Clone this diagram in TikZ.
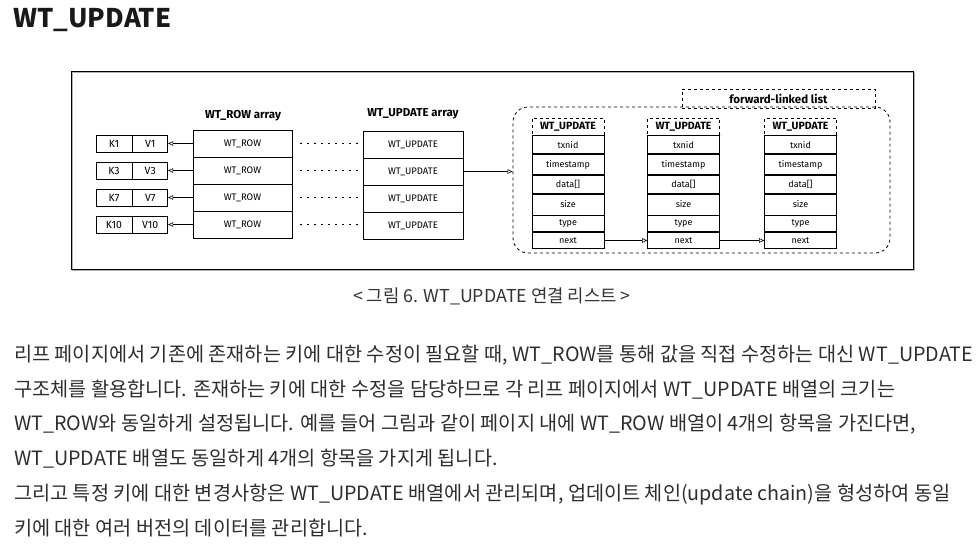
\documentclass[tikz,border=0pt]{standalone}
\usepackage{fontspec}
\setmainfont{Noto Sans CJK KR}
\newfontfamily\sketchfont{Fira Sans}
\usetikzlibrary{positioning,arrows.meta}

\begin{document}
\begin{tikzpicture}[x=1pt,y=-1pt,
    box/.style={draw,line width=0.75pt,inner sep=0pt,font=\sketchfont\fontsize{9.5}{9.5}\selectfont},
    kv/.style={box,minimum height=17,font=\sketchfont\fontsize{10.5}{10.5}\selectfont},
    cell/.style={box,minimum height=27},
    fld/.style={box,minimum width=72,font=\sketchfont\fontsize{9}{9}\selectfont},
    hdr/.style={fld,dashed,minimum height=17,font=\sketchfont\bfseries\fontsize{10.5}{10.5}\selectfont},
    lbl/.style={inner sep=0pt,font=\sketchfont\bfseries\fontsize{11.5}{12}\selectfont},
    ptr/.style={-{Triangle[open,length=5pt,width=4.5pt]},line width=0.6pt},
    dots/.style={line width=1.4pt,dash pattern=on 1.4pt off 5.6pt},
    para/.style={anchor=base west,inner sep=0pt,text=black!82,font=\fontsize{19.7}{19.7}\selectfont}]
  \useasboundingbox (0,0) rectangle (979,553);

  \node[anchor=base west,inner sep=0pt,text=black!90,font=\bfseries\fontsize{25.7}{25.7}\selectfont] (heading) at (13,28) {WT\_UPDATE};

  % figure frame
  \draw[black!30,line width=1pt] (72.5,72.5) rectangle (914.5,270.5);
  \draw[line width=0.9pt] (71,71) rectangle (913,269);

  % key/value pairs, WT_ROW array and WT_UPDATE array
  \node[lbl] (rowtitle) at (243,116) {WT\_ROW array};
  \node[lbl] (updtitle) at (413,114) {WT\_UPDATE array};
  \foreach \i/\k in {1/1,2/3,3/7,4/10} {
    \node[kv,minimum width=36] (K\i) at (114,130+27*\i-13.5) {K\k};
    \node[kv,minimum width=35,right=0pt of K\i] (V\i) {V\k};
    \node[cell,minimum width=99] (row\i) at (242.5,130+27*\i-13.5) {WT\_ROW};
    \node[cell,minimum width=100] (upd\i) at (413,131+27*\i-13.5) {WT\_UPDATE};
    \draw[ptr] (row\i.west) -- (V\i.east);
    \draw[dots,shorten <=8pt,shorten >=5pt] (row\i.east) -- (row\i.east -| upd\i.west);
  }

  % update chain
  \node[draw,dashed,line width=0.8pt,rounded corners=15pt,minimum width=377,minimum height=146] (chain) at (701.5,180) {};
  \node[draw,dashed,line width=0.8pt,minimum width=193,minimum height=19,lbl] (fll) at (778.5,98.5) {forward-linked list};
  \draw[ptr] (upd2.east) -- (upd2.east -| chain.west);
  \foreach \s/\x in {1/568,2/683.5,3/800.5} {
    \node[hdr] (h\s) at (\x,126.5) {WT\_UPDATE};
    \node[fld,minimum height=18,below=0pt of h\s] (tx\s) {txnid};
    \node[fld,minimum height=20,below=0pt of tx\s] (ts\s) {timestamp};
    \node[fld,minimum height=18,below=0pt of ts\s] (dt\s) {data[]};
    \node[fld,minimum height=21,below=0pt of dt\s] (sz\s) {size};
    \node[fld,minimum height=16,below=0pt of sz\s] (ty\s) {type};
    \node[fld,minimum height=16,below=0pt of ty\s] (nx\s) {next};
  }
  \draw[ptr] (nx1.east) -- (nx2.west);
  \draw[ptr] (nx2.east) -- (nx3.west);

  \node[anchor=base,inner sep=0pt,text=black!80,font=\fontsize{17.8}{17.8}\selectfont] (caption) at (492,302) {< 그림 6. WT\_UPDATE 연결 리스트 >};

  \node[para] (p1) at (14,361) {리프 페이지에서 기존에 존재하는 키에 대한 수정이 필요할 때, WT\_ROW를 통해 값을 직접 수정하는 대신 WT\_UPDATE};
  \node[para] (p2) at (14,396) {구조체를 활용합니다. 존재하는 키에 대한 수정을 담당하므로 각 리프 페이지에서 WT\_UPDATE 배열의 크기는};
  \node[para] (p3) at (14,430.5) {WT\_ROW와 동일하게 설정됩니다. 예를 들어 그림과 같이 페이지 내에 WT\_ROW 배열이 4개의 항목을 가진다면,};
  \node[para] (p4) at (14,465) {WT\_UPDATE 배열도 동일하게 4개의 항목을 가지게 됩니다.};
  \node[para] (p5) at (14,500) {그리고 특정 키에 대한 변경사항은 WT\_UPDATE 배열에서 관리되며, 업데이트 체인(update chain)을 형성하여 동일};
  \node[para] (p6) at (14,535) {키에 대한 여러 버전의 데이터를 관리합니다.};
\end{tikzpicture}
\end{document}
